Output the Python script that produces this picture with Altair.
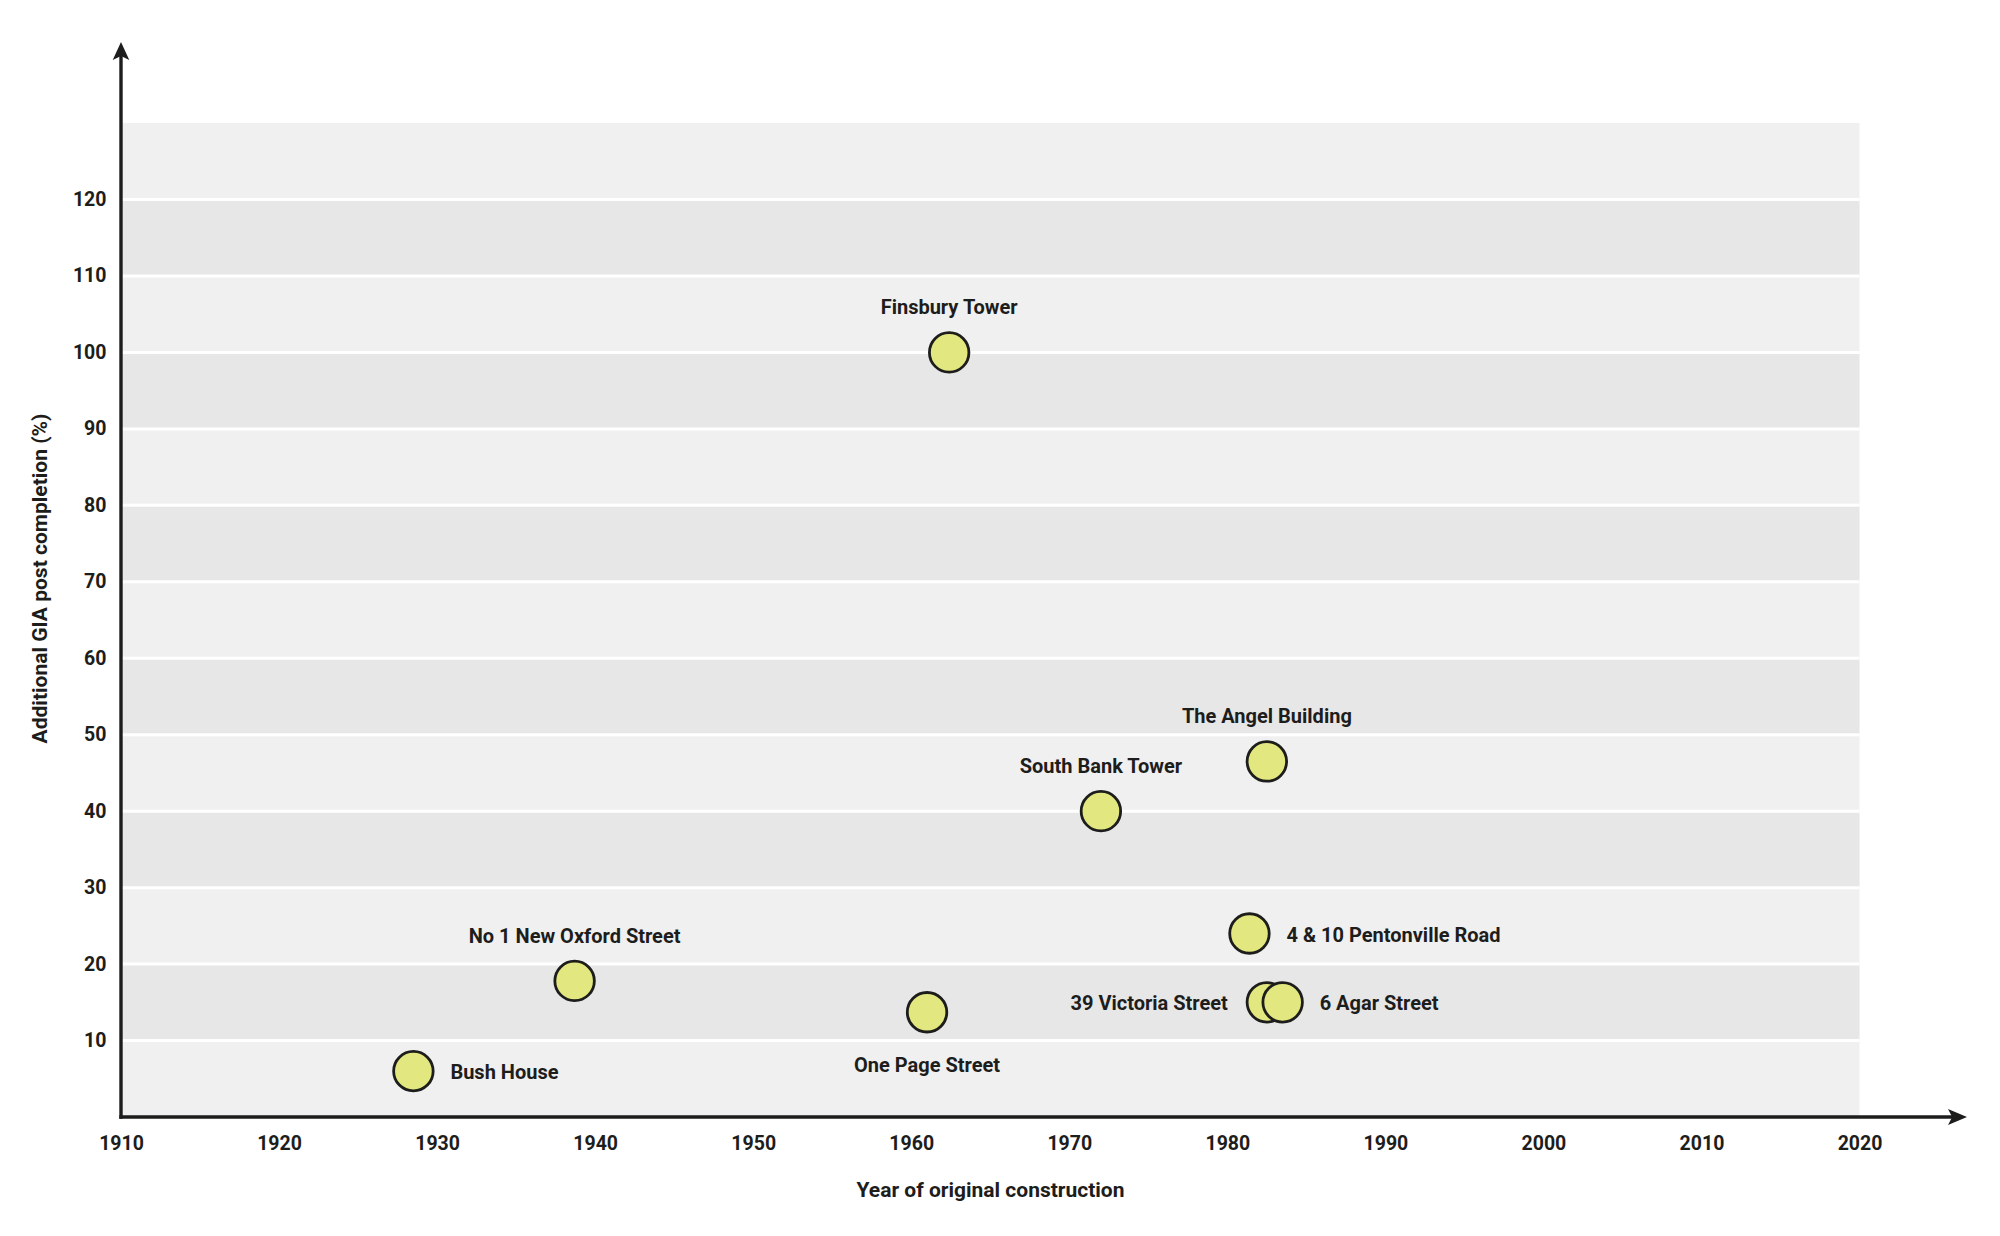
import altair as alt
import pandas as pd

# ---- data ----
names = ["Bush House", "No 1 New Oxford Street", "One Page Street", "Finsbury Tower",
         "South Bank Tower", "The Angel Building", "4 & 10 Pentonville Road",
         "39 Victoria Street", "6 Agar Street"]
years = [1928.5, 1938.7, 1961.0, 1962.4, 1972.0, 1982.5, 1981.4, 1982.5, 1983.5]
gia = [6.0, 17.8, 13.7, 100.0, 40.0, 46.5, 24.0, 15.0, 15.0]
label_side = ["right", "above", "below", "above", "above", "above", "right", "left", "right"]

x_ticks = list(range(1910, 2021, 10))
y_ticks = list(range(10, 121, 10))
band_lows = list(range(0, 130, 10))

X_MIN, X_MAX = 1910, 2026.8   # x axis runs on to the arrow tip
Y_MIN, Y_MAX = 0, 140.6       # y axis runs on to the arrow tip

INK = "#1d1d1b"
FONT = "Roboto"

points = pd.DataFrame({"name": names, "year": years, "gia": gia, "side": label_side})
bands = pd.DataFrame({"lo": band_lows,
                      "hi": [b + 10 for b in band_lows],
                      "shade": ["light" if (b // 10) % 2 == 0 else "dark" for b in band_lows],
                      "x0": x_ticks[0], "x1": x_ticks[-1]})
grid = pd.DataFrame({"v": y_ticks, "x0": x_ticks[0], "x1": x_ticks[-1]})
axes_df = pd.DataFrame({"x": [X_MIN], "x2": [X_MAX - 0.8], "y": [Y_MIN], "y2": [Y_MAX - 1.2]})
tips_df = pd.DataFrame({"xtip": [X_MAX], "ytip": [Y_MAX], "x": [X_MIN], "y": [Y_MIN]})

xs = alt.Scale(domain=[X_MIN, X_MAX], nice=False, zero=False)
ys = alt.Scale(domain=[Y_MIN, Y_MAX], nice=False, zero=False)

x_axis = alt.Axis(values=x_ticks, format="d", domain=False, ticks=False, grid=False,
                  labelFont=FONT, labelFontSize=19.5, labelFontWeight="bold", labelColor=INK,
                  labelPadding=17, labelFlush=False, labelOverlap=False,
                  title="Year of original construction", titleFont=FONT, titleFontSize=21,
                  titleFontWeight="bold", titleColor=INK, titleX=869, titleY=79,
                  titleAlign="center", titleBaseline="alphabetic")
y_axis = alt.Axis(values=y_ticks, format="d", domain=False, ticks=False, grid=False,
                  labelFont=FONT, labelFontSize=19.5, labelFontWeight="bold", labelColor=INK,
                  labelPadding=15, labelFlush=False, labelOverlap=False,
                  title="Additional GIA post completion (%)", titleFont=FONT, titleFontSize=21,
                  titleFontWeight="bold", titleColor=INK, titleX=-81, titleY=536,
                  titleAngle=270, titleAlign="center", titleBaseline="middle")


def X(field):
    return alt.X(field, scale=xs, axis=x_axis, title="Year of original construction")


def Y(field):
    return alt.Y(field, scale=ys, axis=y_axis, title="Additional GIA post completion (%)")


band_layer = alt.Chart(bands).mark_rect().encode(
    x=X("x0:Q"), x2="x1:Q",
    y=Y("lo:Q"), y2="hi:Q",
    color=alt.Color("shade:N", scale=alt.Scale(domain=["light", "dark"],
                                               range=["#f1f0f1", "#e8e7e8"]), legend=None),
)

grid_layer = alt.Chart(grid).mark_rule(color="white", strokeWidth=3).encode(
    x=X("x0:Q"), x2="x1:Q", y=Y("v:Q"),
)

xaxis_line = alt.Chart(axes_df).mark_rule(color=INK, strokeWidth=3.4, strokeCap="square").encode(
    x=X("x:Q"), x2="x2:Q", y=Y("y:Q"),
)
yaxis_line = alt.Chart(axes_df).mark_rule(color=INK, strokeWidth=3.4, strokeCap="square").encode(
    x=X("x:Q"), y=Y("y:Q"), y2="y2:Q",
)

up_arrow = alt.Chart(tips_df).mark_point(
    shape="M0,0 L-0.46,1 L0,0.78 L0.46,1 Z", size=1300, filled=True,
    color=INK, opacity=1, strokeWidth=0,
).encode(x=X("x:Q"), y=Y("ytip:Q"))

right_arrow = alt.Chart(tips_df).mark_point(
    shape="M0,0 L-1,-0.42 L-0.78,0 L-1,0.42 Z", size=1444, filled=True,
    color=INK, opacity=1, strokeWidth=0,
).encode(x=X("xtip:Q"), y=Y("y:Q"))

dots = alt.Chart(points).mark_circle(
    size=1560, fill="#e2e87f", stroke=INK, strokeWidth=2.8, opacity=1, strokeOpacity=1,
).encode(x=X("year:Q"), y=Y("gia:Q"))


def labels(side, **kw):
    return alt.Chart(points).transform_filter(alt.datum.side == side).mark_text(
        font=FONT, fontSize=20, fontWeight="bold", color=INK, **kw
    ).encode(x=X("year:Q"), y=Y("gia:Q"), text="name:N")


lab_above = labels("above", align="center", baseline="alphabetic", dy=-38)
lab_below = labels("below", align="center", baseline="alphabetic", dy=60)
lab_right = labels("right", align="left", baseline="middle", dx=37, dy=2)
lab_left = labels("left", align="right", baseline="middle", dx=-39, dy=2)

chart = alt.layer(
    band_layer, grid_layer, xaxis_line, yaxis_line, up_arrow, right_arrow,
    dots, lab_above, lab_below, lab_right, lab_left,
).properties(
    width=1846, height=1075,
    autosize=alt.AutoSizeParams(type="none"),
    padding={"left": 113, "top": 34, "right": 25, "bottom": 100},
    background="white",
).configure_view(stroke=None)

chart.save("out.html", embed_options={"renderer": "svg", "actions": False})
